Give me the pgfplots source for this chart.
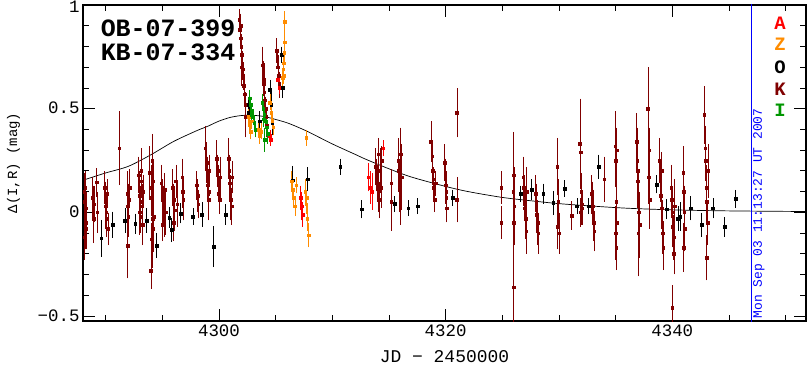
\documentclass[border=0pt]{standalone}
\usepackage{fontspec}
\setmainfont{Liberation Mono}
\usepackage{pgfplots}
\usepackage{pgfplotstable}
\pgfplotsset{compat=1.18}
\definecolor{kcol}{RGB}{128,0,0}
\definecolor{zcol}{RGB}{255,140,0}
\definecolor{acol}{RGB}{255,0,0}
\definecolor{icol}{RGB}{0,150,0}

\pgfplotstableread{
x y e
4288.1 0.10 0.08
4288.15 0.05 0.09
4288.2 -0.02 0.10
4288.25 -0.08 0.09
4288.3 0.02 0.07
4288.1 -0.12 0.10
4288.2 0.12 0.07
4288.3 -0.05 0.12
4288.85 0.07 0.09
4288.9 0.02 0.10
4288.95 -0.03 0.11
4289.0 0.04 0.08
4289.2 0.145 0.06
4289.25 0.0 0.09
4289.9 0.12 0.07
4290.0 0.06 0.08
4290.05 0.0 0.09
4290.1 -0.03 0.08
4290.15 0.09 0.06
4290.2 -0.08 0.07
4290.0 0.03 0.10
4291.2 0.31 0.17
4291.9 0.09 0.10
4291.95 0.03 0.08
4292.0 -0.02 0.09
4292.05 0.06 0.07
4291.95 -0.16 0.15
4292.1 0.12 0.08
4292.9 0.18 0.08
4292.95 0.12 0.07
4293.0 0.08 0.08
4293.05 0.03 0.09
4293.1 -0.02 0.07
4293.15 0.15 0.06
4293.2 0.05 0.08
4293.25 -0.06 0.09
4293.3 0.10 0.07
4293.0 0.0 0.10
4293.15 0.20 0.10
4293.9 0.19 0.12
4294.0 0.12 0.10
4294.05 0.07 0.08
4294.1 0.02 0.09
4294.15 -0.03 0.08
4294.2 -0.08 0.10
4294.05 -0.13 0.07
4294.1 -0.18 0.08
4294.0 -0.28 0.08
4294.2 0.15 0.09
4294.25 -0.02 0.10
4294.1 0.25 0.12
4294.9 0.14 0.08
4295.0 0.08 0.07
4295.1 0.03 0.09
4295.15 -0.03 0.08
4295.2 0.11 0.07
4295.3 0.0 0.10
4295.05 -0.06 0.07
4295.9 0.12 0.08
4296.0 0.06 0.07
4296.1 0.01 0.09
4296.2 0.15 0.07
4296.3 0.04 0.10
4296.0 -0.05 0.08
4296.75 0.17 0.08
4296.8 0.10 0.07
4296.85 0.06 0.09
4298.05 0.13 0.06
4298.1 0.08 0.07
4298.15 0.04 0.06
4298.8 0.31 0.10
4298.9 0.24 0.09
4298.95 0.18 0.08
4299.0 0.13 0.07
4299.05 0.09 0.08
4299.1 0.06 0.09
4299.15 0.20 0.07
4299.0 0.15 0.06
4299.1 0.10 0.08
4299.8 0.26 0.08
4299.9 0.20 0.07
4299.95 0.14 0.08
4300.0 0.09 0.07
4300.05 0.06 0.06
4300.1 0.17 0.09
4300.85 0.26 0.09
4300.9 0.20 0.07
4300.95 0.14 0.08
4301.0 0.10 0.07
4301.05 0.06 0.09
4301.1 0.03 0.08
4301.15 0.17 0.07
4301.8 0.93 0.04
4301.85 0.88 0.05
4301.9 0.84 0.04
4301.95 0.80 0.05
4302.0 0.76 0.04
4302.05 0.72 0.05
4302.1 0.69 0.04
4302.15 0.65 0.05
4302.2 0.61 0.05
4302.25 0.57 0.04
4302.3 0.52 0.05
4302.3 0.46 0.09
4301.9 0.90 0.05
4302.0 0.70 0.08
4303.85 0.71 0.08
4303.9 0.66 0.06
4303.95 0.62 0.05
4304.0 0.58 0.05
4304.05 0.54 0.04
4304.1 0.50 0.05
4304.15 0.46 0.04
4304.2 0.42 0.05
4304.0 0.64 0.07
4305.1 0.78 0.05
4305.15 0.74 0.04
4305.2 0.70 0.05
4305.25 0.66 0.04
4305.3 0.62 0.05
4305.35 0.60 0.04
4313.8 0.22 0.08
4313.9 0.18 0.07
4314.0 0.14 0.08
4314.05 0.10 0.09
4314.1 0.28 0.07
4314.15 0.06 0.08
4314.2 0.20 0.10
4314.3 0.12 0.09
4314.35 0.25 0.06
4315.2 0.14 0.06
4315.2 0.05 0.13
4315.8 0.25 0.10
4315.85 0.20 0.08
4315.9 0.15 0.09
4315.95 0.11 0.10
4316.0 0.07 0.12
4316.05 0.28 0.12
4316.1 0.17 0.15
4316.0 0.22 0.17
4318.7 0.34 0.09
4318.8 0.27 0.07
4318.85 0.20 0.06
4318.9 0.16 0.05
4318.95 0.12 0.06
4319.0 0.09 0.05
4319.05 0.06 0.05
4319.1 0.14 0.05
4319.9 0.24 0.08
4319.95 0.18 0.07
4320.0 0.13 0.08
4320.05 0.07 0.07
4320.1 0.02 0.06
4320.05 0.10 0.09
4321.0 0.48 0.11
4321.0 0.06 0.10
4324.9 0.12 0.07
4324.9 -0.05 0.07
4326.0 0.18 0.20
4325.95 0.10 0.15
4326.05 0.03 0.18
4326.0 -0.05 0.20
4326.0 -0.36 0.17
4326.85 0.17 0.09
4326.9 0.12 0.08
4326.95 0.07 0.10
4327.0 0.02 0.08
4327.05 -0.03 0.09
4327.1 -0.09 0.10
4327.15 0.10 0.11
4327.95 0.09 0.08
4328.0 0.04 0.09
4328.05 -0.01 0.08
4328.1 -0.05 0.10
4328.15 -0.10 0.09
4329.85 0.22 0.13
4329.9 -0.07 0.10
4330.0 -0.10 0.09
4329.95 0.05 0.10
4331.1 -0.015 0.06
4331.85 0.33 0.21
4331.9 0.29 0.09
4331.95 0.10 0.08
4332.0 0.04 0.09
4332.05 0.02 0.07
4331.9 0.0 0.06
4332.9 0.09 0.08
4332.95 0.05 0.09
4333.0 0.0 0.10
4333.05 -0.05 0.08
4333.1 -0.09 0.09
4333.0 0.03 0.06
4334.0 0.16 0.10
4334.95 0.32 0.16
4335.0 0.25 0.12
4335.05 0.05 0.15
4335.1 -0.05 0.11
4335.0 -0.10 0.12
4335.05 -0.17 0.10
4335.1 0.30 0.10
4336.85 0.34 0.13
4336.9 0.25 0.15
4336.95 0.15 0.12
4337.0 0.08 0.10
4337.05 0.0 0.13
4337.1 -0.06 0.15
4337.0 -0.10 0.20
4336.95 0.20 0.10
4337.85 0.50 0.19
4337.9 0.17 0.12
4338.0 0.06 0.13
4337.95 0.30 0.10
4338.9 0.25 0.10
4338.95 0.15 0.09
4339.0 0.08 0.10
4339.05 0.02 0.09
4339.1 -0.05 0.10
4339.15 -0.10 0.09
4339.2 -0.17 0.10
4339.05 0.20 0.08
4339.9 0.12 0.10
4339.95 0.06 0.08
4340.0 0.0 0.10
4340.05 -0.07 0.09
4340.1 -0.12 0.10
4340.15 -0.20 0.09
4340.0 -0.46 0.10
4340.2 0.03 0.12
4340.95 0.19 0.12
4341.0 0.10 0.10
4341.05 0.0 0.12
4341.1 -0.08 0.10
4341.0 -0.17 0.11
4342.8 0.47 0.13
4342.9 0.31 0.10
4342.95 0.25 0.09
4343.0 0.12 0.10
4343.05 0.05 0.10
4343.1 -0.05 0.10
4343.05 -0.22 0.10
4343.15 0.20 0.12
}\Ktab

\pgfplotstableread{
x y e
4289.6 -0.125 0.08
4290.6 -0.06 0.055
4291.7 -0.04 0.05
4292.6 -0.055 0.04
4293.6 -0.04 0.05
4294.5 -0.16 0.05
4295.6 -0.025 0.04
4295.8 -0.085 0.05
4296.6 -0.005 0.04
4297.7 -0.02 0.03
4298.5 -0.01 0.05
4299.5 -0.165 0.09
4300.6 -0.01 0.04
4302.6 0.52 0.03
4302.65 0.48 0.03
4303.6 0.44 0.04
4304.5 0.59 0.04
4304.6 0.52 0.05
4304.7 0.43 0.05
4305.5 0.76 0.03
4305.6 0.60 0.04
4306.5 0.155 0.06
4307.8 0.16 0.05
4310.7 0.22 0.03
4312.6 0.015 0.035
4315.5 0.04 0.03
4316.7 0.02 0.03
4317.5 0.03 0.03
4320.6 0.07 0.03
4326.6 0.09 0.03
4327.6 0.11 0.04
4328.6 0.09 0.04
4329.5 0.045 0.05
4330.5 0.115 0.03
4331.6 0.03 0.03
4332.6 0.03 0.03
4333.5 0.22 0.05
4338.6 0.135 0.035
4339.5 0.015 0.04
4340.5 -0.03 0.05
4340.7 -0.02 0.06
4341.6 0.02 0.05
4342.6 -0.06 0.05
4343.6 0.02 0.04
4344.6 -0.07 0.04
4345.6 0.065 0.035
}\Otab

\pgfplotstableread{
x y e
4302.6 0.46 0.03
4302.7 0.42 0.03
4302.8 0.39 0.03
4302.9 0.44 0.03
4303.5 0.40 0.03
4303.6 0.37 0.03
4303.7 0.39 0.03
4304.5 0.53 0.03
4304.6 0.48 0.03
4304.7 0.44 0.03
4304.8 0.41 0.03
4305.6 0.65 0.03
4305.65 0.69 0.03
4305.7 0.72 0.03
4305.75 0.77 0.04
4305.8 0.82 0.04
4305.8 0.92 0.04
4305.7 0.66 0.03
4307.7 0.36 0.03
4306.4 0.15 0.04
4306.5 0.11 0.04
4306.6 0.07 0.03
4306.7 0.03 0.04
4306.8 0.13 0.03
4307.6 0.10 0.05
4307.7 0.04 0.04
4307.8 -0.03 0.05
4307.9 -0.11 0.05
4307.75 0.07 0.03
}\Ztab

\pgfplotstableread{
x y e
4304.5 0.37 0.02
4304.55 0.35 0.02
4305.2 0.64 0.02
4305.3 0.60 0.02
4307.2 0.07 0.05
4307.3 0.03 0.06
4307.4 -0.01 0.05
4313.2 0.17 0.06
4313.35 0.12 0.07
4313.5 0.10 0.08
4314.5 0.31 0.03
}\Atab

\pgfplotstableread{
x y e
4302.7 0.55 0.03
4302.8 0.52 0.03
4302.9 0.49 0.03
4303.0 0.46 0.03
4303.1 0.43 0.03
4303.2 0.40 0.03
4302.85 0.47 0.03
4303.8 0.53 0.03
4303.9 0.50 0.03
4304.0 0.47 0.03
4304.1 0.44 0.03
4304.2 0.41 0.03
4304.3 0.38 0.04
4304.05 0.35 0.05
4303.95 0.45 0.03
}\Itab

\begin{document}
\begin{tikzpicture}
\begin{axis}[
  scale only axis, width=723bp, height=316bp,
  xmin=4288, xmax=4351.8, ymin=-0.524, ymax=1.0,
  xtick={4300,4320,4340}, xticklabels={4300,4320,4340},
  minor xtick={4290,4295,4305,4310,4315,4325,4330,4335,4345,4350},
  ytick={-0.5,0,0.5,1}, yticklabels={−0.5,0,0.5,\raisebox{-3bp}{1}},
  minor ytick={-0.4,-0.3,-0.2,-0.1,0.1,0.2,0.3,0.4,0.6,0.7,0.8,0.9},
  tick align=inside, major tick length=12bp, minor tick length=6bp,
  every tick/.style={black, line width=0.8pt},
  axis line style={line width=1.2pt},
  tick label style={font=\fontsize{17.5}{17.5}\selectfont},
  yticklabel style={inner ysep=0pt, text height=10bp, text depth=0pt},
  xlabel={JD − 2450000}, ylabel={Δ(I,R) (mag)},
  xlabel style={font=\fontsize{18}{18}\selectfont, at={(axis description cs:0.5,-0.114)}, anchor=center},
  ylabel style={font=\fontsize{14}{14}\selectfont, at={(axis description cs:-0.096,0.5)}, anchor=center},
  error bars/error bar style={line width=0.8pt},
  error bars/error mark options={line width=0.8pt, mark size=1.8pt},
]
\addplot[black, line width=0.7pt, smooth] coordinates {
(4288,0.155) (4290,0.19) (4292,0.222) (4294,0.278) (4296,0.342) (4298,0.393)
(4299,0.415) (4300,0.44) (4301,0.458) (4302,0.467) (4303,0.468) (4304,0.462)
(4305,0.448) (4306,0.432) (4307,0.41) (4308,0.385) (4310,0.33) (4312,0.28)
(4313,0.255) (4315,0.21) (4317,0.17) (4320,0.125) (4322,0.10) (4325,0.072)
(4328,0.053) (4330,0.042) (4333,0.03) (4336,0.02) (4340,0.012) (4345,0.007) (4352,0.004)};
\addplot[kcol, only marks, mark=square*, mark size=1.3pt,
  error bars/.cd, y dir=both, y explicit] table[x=x, y=y, y error=e] {\Ktab};
\addplot[black, only marks, mark=square*, mark size=1.4pt,
  error bars/.cd, y dir=both, y explicit] table[x=x, y=y, y error=e] {\Otab};
\addplot[zcol, only marks, mark=square*, mark size=1.3pt,
  error bars/.cd, y dir=both, y explicit] table[x=x, y=y, y error=e] {\Ztab};
\addplot[acol, only marks, mark=square*, mark size=1.3pt,
  error bars/.cd, y dir=both, y explicit] table[x=x, y=y, y error=e] {\Atab};
\addplot[icol, only marks, mark=square*, mark size=1.3pt,
  error bars/.cd, y dir=both, y explicit] table[x=x, y=y, y error=e] {\Itab};
\addplot[blue, line width=0.7pt] coordinates {(4347,-0.6) (4347,1.1)};
\node[anchor=base west, inner sep=0pt, text height=16bp, text depth=0pt, font=\bfseries\fontsize{25}{25}\selectfont] at (axis cs:4289.55,0.846) {OB-07-399};
\node[anchor=base west, inner sep=0pt, text height=16bp, text depth=0pt, font=\bfseries\fontsize{25}{25}\selectfont] at (axis cs:4289.55,0.731) {KB-07-334};
\node[anchor=base, inner sep=0pt, text=acol, font=\bfseries\fontsize{19}{19}\selectfont] at (axis cs:4349.5,0.883) {A};
\node[anchor=base, inner sep=0pt, text=zcol, font=\bfseries\fontsize{19}{19}\selectfont] at (axis cs:4349.5,0.780) {Z};
\node[anchor=base, inner sep=0pt, text=black, font=\bfseries\fontsize{19}{19}\selectfont] at (axis cs:4349.5,0.671) {O};
\node[anchor=base, inner sep=0pt, text=kcol, font=\bfseries\fontsize{19}{19}\selectfont] at (axis cs:4349.5,0.562) {K};
\node[anchor=base, inner sep=0pt, text=icol, font=\bfseries\fontsize{19}{19}\selectfont] at (axis cs:4349.5,0.462) {I};
\node[rotate=90, anchor=west, inner sep=0pt, text=blue, font=\fontsize{13}{13}\selectfont] at (axis cs:4347.65,-0.512) {Mon Sep 03 11:13:27 UT 2007};
\end{axis}
\pgfresetboundingbox
\path[use as bounding box] ([xshift=-83bp,yshift=-46bp]current axis.south west) rectangle ([xshift=1bp,yshift=5bp]current axis.north east);
\end{tikzpicture}
\end{document}
